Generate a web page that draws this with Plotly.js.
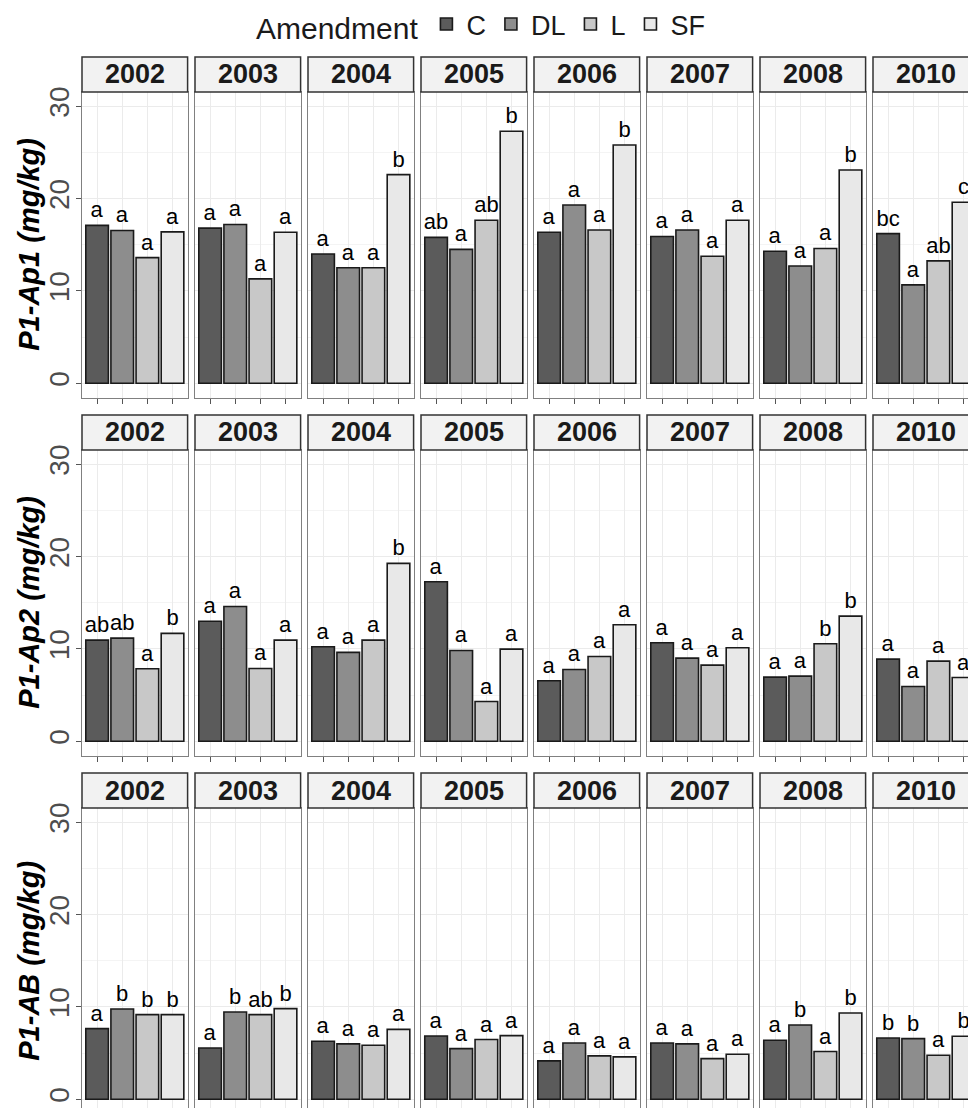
<!DOCTYPE html>
<html>
<head>
<meta charset="utf-8">
<script src="https://cdn.plot.ly/plotly-3.0.1.min.js"></script>
<style>
html,body{margin:0;padding:0;width:968px;height:1108px;overflow:hidden;background:#fff}
#chart{width:990px;height:1125px}
</style>
</head>
<body>
<div id="chart"></div>
<script>
// ---------- data ----------
const years = ['2002','2003','2004','2005','2006','2007','2008','2010'];
const amendments = ['C','DL','L','SF'];
const rowLabels = ['P1-Ap1 (mg/kg)','P1-Ap2 (mg/kg)','P1-AB (mg/kg)'];

// P1-Ap1
const ap1C  = [17.1, 16.8, 14.0, 15.8, 16.35, 15.9, 14.3, 16.2];
const ap1DL = [16.55, 17.2, 12.5, 14.5, 19.3, 16.6, 12.7, 10.65];
const ap1L  = [13.6, 11.3, 12.5, 17.65, 16.6, 13.75, 14.6, 13.25];
const ap1SF = [16.4, 16.35, 22.6, 27.3, 25.8, 17.65, 23.1, 19.6];
const ap1CLet  = ['a','a','a','ab','a','a','a','bc'];
const ap1DLLet = ['a','a','a','a','a','a','a','a'];
const ap1LLet  = ['a','a','a','ab','a','a','a','ab'];
const ap1SFLet = ['a','a','b','b','b','a','b','c'];

// P1-Ap2
const ap2C  = [10.95, 13.0, 10.23, 17.28, 6.55, 10.67, 6.94, 8.89];
const ap2DL = [11.17, 14.6, 9.62, 9.83, 7.77, 9.0, 7.05, 5.93];
const ap2L  = [7.85, 7.88, 10.95, 4.3, 9.18, 8.24, 10.56, 8.68];
const ap2SF = [11.68, 10.95, 19.27, 9.98, 12.62, 10.12, 13.55, 6.9];
const ap2CLet  = ['ab','a','a','a','a','a','a','a'];
const ap2DLLet = ['ab','a','a','a','a','a','a','a'];
const ap2LLet  = ['a','a','a','a','a','a','b','a'];
const ap2SFLet = ['b','a','b','a','a','a','b','a'];

// P1-AB
const abC  = [7.65, 5.55, 6.27, 6.85, 4.15, 6.09, 6.38, 6.63];
const abDL = [9.77, 9.45, 5.99, 5.48, 6.09, 5.99, 8.04, 6.56];
const abL  = [9.16, 9.16, 5.84, 6.46, 4.69, 4.4, 5.16, 4.76];
const abSF = [9.16, 9.81, 7.57, 6.89, 4.58, 4.87, 9.34, 6.82];
const abCLet  = ['a','a','a','a','a','a','a','b'];
const abDLLet = ['b','b','a','a','a','a','b','b'];
const abLLet  = ['b','ab','a','a','a','a','a','a'];
const abSFLet = ['b','b','a','a','a','a','b','b'];

const yTicks = [0, 10, 20, 30];

// ---------- styling ----------
const fillColors = {C:'#5b5b5b', DL:'#8d8d8d', L:'#c8c8c8', SF:'#e8e8e8'};
const FONT = '"Liberation Sans", Arial, Helvetica, sans-serif';
const W = 990, H = 1125;
const panelLeft = 82, pitchX = 113, panelW = 105.6;
const rowTop = 92, pitchY = 358, panelH = 305.5, stripH = 35;
const yRange = [-1.55, 31.55];

const rows = [
  {values:[ap1C, ap1DL, ap1L, ap1SF], letters:[ap1CLet, ap1DLLet, ap1LLet, ap1SFLet]},
  {values:[ap2C, ap2DL, ap2L, ap2SF], letters:[ap2CLet, ap2DLLet, ap2LLet, ap2SFLet]},
  {values:[abC, abDL, abL, abSF],     letters:[abCLet, abDLLet, abLLet, abSFLet]}
];

const traces = [];
const shapes = [];
const annotations = [];
const layout = {
  width: W, height: H,
  margin: {l:0, r:0, t:0, b:0},
  paper_bgcolor: '#ffffff',
  plot_bgcolor: '#ffffff',
  barmode: 'overlay',
  bargap: 0.1,
  font: {family: FONT, color: '#1a1a1a'},
  showlegend: true,
  legend: {
    orientation: 'h',
    x: 254 / W, xanchor: 'left',
    y: 1, yanchor: 'top',
    font: {family: FONT, size: 27, color: '#1a1a1a'},
    title: {text: 'Amendment', side: 'left', font: {family: FONT, size: 30, color: '#1a1a1a'}},
    bgcolor: 'rgba(0,0,0,0)',
    borderwidth: 0,
    itemclick: false, itemdoubleclick: false,
    traceorder: 'normal'
  }
};

rows.forEach((row, r) => {
  const top = rowTop + r * pitchY;
  years.forEach((yr, c) => {
    const n = r * years.length + c + 1;
    const sfx = n === 1 ? '' : String(n);
    const xa = 'x' + sfx, ya = 'y' + sfx;
    const left = panelLeft + c * pitchX;

    layout['xaxis' + sfx] = {
      domain: [left / W, (left + panelW) / W],
      anchor: ya,
      type: 'category',
      categoryorder: 'array',
      categoryarray: amendments,
      range: [-0.6, 3.6],
      showticklabels: false,
      ticks: 'outside', ticklen: 5, tickwidth: 1, tickcolor: '#555555',
      showgrid: true, gridcolor: '#ebebeb', gridwidth: 1,
      showline: true, mirror: true, linecolor: '#808080', linewidth: 1,
      zeroline: false, fixedrange: true
    };
    layout['yaxis' + sfx] = {
      domain: [1 - (top + panelH) / H, 1 - top / H],
      anchor: xa,
      range: yRange,
      tickmode: 'array', tickvals: yTicks,
      showticklabels: c === 0,
      tickangle: -90,
      ticklabelstandoff: -4,
      tickfont: {family: FONT, size: 28, color: '#4d4d4d'},
      ticks: c === 0 ? 'outside' : '', ticklen: 5, tickwidth: 1, tickcolor: '#555555',
      showgrid: true, gridcolor: '#ebebeb', gridwidth: 1,
      minor: {dtick: 5, tick0: 0, showgrid: true, gridcolor: '#f4f4f4', gridwidth: 1, ticks: ''},
      showline: true, mirror: true, linecolor: '#808080', linewidth: 1,
      zeroline: false, fixedrange: true
    };

    // strip
    shapes.push({
      type: 'rect', xref: 'paper', yref: 'paper', layer: 'above',
      x0: left / W, x1: (left + panelW) / W,
      y0: 1 - top / H, y1: 1 - (top - stripH) / H,
      fillcolor: '#f2f2f2', line: {color: '#333333', width: 1.5}
    });
    annotations.push({
      xref: 'paper', yref: 'paper',
      x: (left + panelW / 2) / W, y: 1 - (top - stripH / 2) / H,
      xanchor: 'center', yanchor: 'middle',
      text: '<b>' + yr + '</b>', showarrow: false,
      font: {family: FONT, size: 27, color: '#1a1a1a'}
    });

    amendments.forEach((a, k) => {
      traces.push({
        type: 'bar',
        x: [a], y: [row.values[k][c]],
        text: [row.letters[k][c]],
        textposition: 'outside',
        constraintext: 'none',
        cliponaxis: false,
        textfont: {family: FONT, size: 22, color: '#000000'},
        xaxis: xa, yaxis: ya,
        name: a, legendgroup: a,
        showlegend: n === 1,
        marker: {color: fillColors[a], line: {color: '#1a1a1a', width: 1.6}},
        hoverinfo: 'skip'
      });
    });
  });

  // row title
  annotations.push({
    xref: 'paper', yref: 'paper',
    x: 29 / W, y: 1 - (top + panelH / 2) / H,
    xanchor: 'center', yanchor: 'middle',
    textangle: -90,
    text: '<b><i>' + rowLabels[r] + '</i></b>', showarrow: false,
    font: {family: FONT, size: 29, color: '#000000'}
  });
});

layout.shapes = shapes;
layout.annotations = annotations;

Plotly.newPlot('chart', traces, layout, {displayModeBar: false, staticPlot: true, responsive: false});
</script>
</body>
</html>
